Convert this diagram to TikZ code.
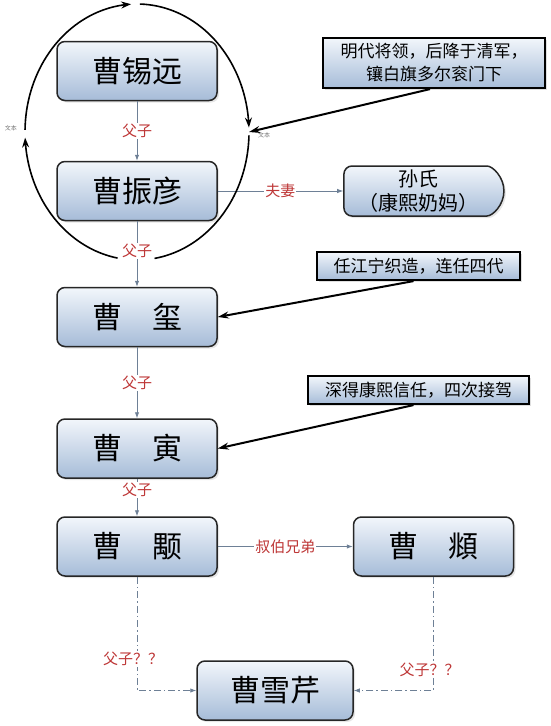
\documentclass[tikz,border=0pt]{standalone}
\usepackage{fontspec}
\setmainfont{Noto Sans CJK SC}
\usepackage{xcolor}
\usepackage{tikz}
\usetikzlibrary{positioning,shapes,shapes.misc,calc,arrows.meta,shadows}

\definecolor{boxtop}{RGB}{242,246,251}
\definecolor{boxbot}{RGB}{166,188,216}
\definecolor{linkgray}{RGB}{110,128,150}
\definecolor{lblred}{RGB}{190,55,55}

\begin{document}
\begin{tikzpicture}[x=1pt,y=-1pt,
        person/.style={draw=black!85, line width=1.5pt, rounded corners=8pt, top color=boxtop, bottom color=boxbot,
            minimum width=160pt, minimum height=59pt, inner sep=0pt, font=\fontsize{30}{34}\selectfont,
            drop shadow={opacity=0.2, shadow xshift=2pt, shadow yshift=-2pt}},
        note/.style={draw=black, line width=2.2pt, top color=boxtop, bottom color=boxbot, inner sep=0pt,
            align=center, font=\fontsize{17}{23}\selectfont,
            drop shadow={opacity=0.25, shadow xshift=2pt, shadow yshift=-2pt}},
        link/.style={draw=linkgray, line width=0.9pt, -{Latex[length=6pt,width=4.5pt]}},
        dlink/.style={link, dash pattern=on 7pt off 3pt on 1.5pt off 3pt},
        lbl/.style={fill=white, text=lblred, font=\fontsize{15}{18}\selectfont, inner sep=1pt},
        ring/.style={black, line width=1.6pt},
        callout/.style={black, line width=2pt, -{Stealth[length=11pt,width=7pt]}},
        tinytext/.style={text=black!55, font=\fontsize{6}{7}\selectfont, inner sep=0pt}
    ]
    \useasboundingbox (0,0) rectangle (550,726);

    \node[person] (xiyuan) at (137,71) {曹锡远};
    \node[person] (zhenyan) at (137,191) {曹振彦};
    \node[person] (xi) at (137,317) {曹　玺};
    \node[person] (yin) at (137,448.5) {曹　寅};
    \node[person] (yong) at (137,546.5) {曹　颙};
    \node[person] (fu) at (433.5,546.5) {曹　頫};
    \node[person, minimum width=156pt] (xueqin) at (275,690.5) {曹雪芹};
    \node[person, rounded rectangle, rounded rectangle west arc=none, minimum width=160pt, minimum height=50pt,
        font=\fontsize{20}{24}\selectfont, align=center] (sunshi) at (418,191) {孙氏\\（康熙奶妈）};

    \node[note, minimum width=222pt, minimum height=50pt] (note1) at (434,63) {明代将领，后降于清军，\\镶白旗多尔衮门下};
    \node[note, minimum width=203pt, minimum height=28pt] (note2) at (418.5,266) {任江宁织造，连任四代};
    \node[note, minimum width=221pt, minimum height=28pt] (note3) at (418.5,390) {深得康熙信任，四次接驾};

    \draw[link] (xiyuan) -- node[lbl] {父子} (zhenyan);
    \draw[link] (zhenyan) -- node[lbl, pos=0.45] {父子} (xi);
    \draw[link] (xi) -- node[lbl] {父子} (yin);
    \draw[link] (yin) -- node[lbl, pos=0.3] {父子} (yong);
    \draw[link] (zhenyan) -- node[lbl] {夫妻} (sunshi);
    \draw[link] (yong) -- node[lbl] {叔伯兄弟} (fu);
    \draw[dlink] (yong) |- node[lbl, pos=0.36, xshift=-4pt] {父子？？} (xueqin);
    \draw[dlink] (fu) |- node[lbl, pos=0.41, xshift=-4pt] {父子？？} (xueqin);

    \draw[ring, -{Stealth[length=10pt,width=7pt]}] plot[domain=179:93, samples=40] ({137+112*cos(\x)},{132-128*sin(\x)});
    \draw[ring, -{Stealth[length=10pt,width=7pt]}] plot[domain=88.5:2, samples=40] ({137+112*cos(\x)},{132-128*sin(\x)});
    \draw[ring] plot[domain=-1.5:-81, samples=40] ({137+112*cos(\x)},{132-128*sin(\x)});
    \draw[ring, -{Stealth[length=10pt,width=7pt]}] plot[domain=260:182.5, samples=40] ({137+112*cos(\x)},{132-128*sin(\x)});
    \node[tinytext] (ltext) at (11,128) {文本};
    \node[tinytext] (rtext) at (264,135) {文本};
    \coordinate (rgap) at (249,132);

    \draw[callout] ([xshift=-4pt]note1.south) -- (rgap);
    \draw[callout] ([xshift=-5pt]note2.south) -- (xi.east);
    \draw[callout] ([xshift=-5pt]note3.south) -- (yin.east);
\end{tikzpicture}
\end{document}
